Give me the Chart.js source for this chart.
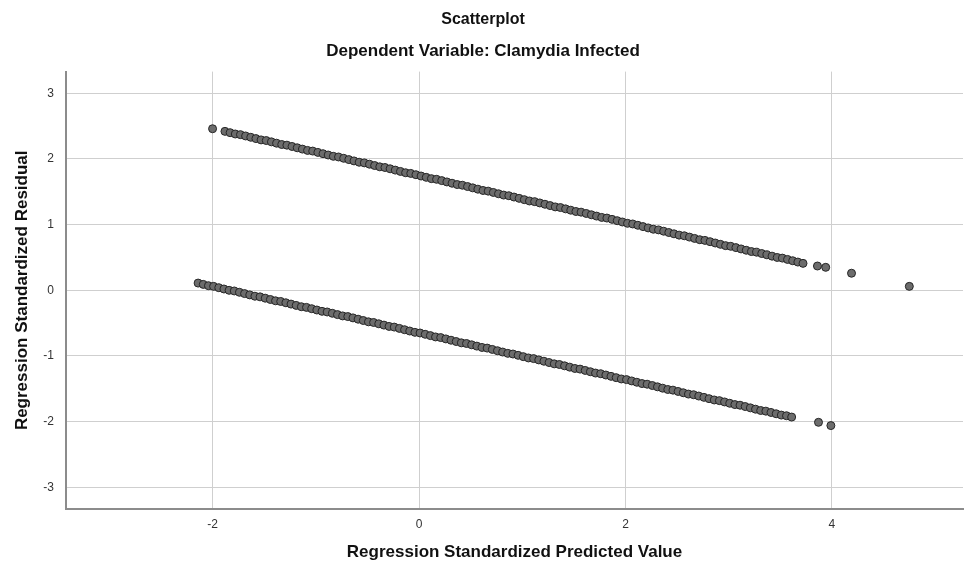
<!DOCTYPE html>
<html>
<head>
<meta charset="utf-8">
<title>Scatterplot</title>
<script src="https://cdn.jsdelivr.net/npm/chart.js@4.4.1/dist/chart.umd.min.js"></script>
<style>
  html, body { margin: 0; padding: 0; background: #fff; }
  #wrap { width: 968px; height: 567px; position: relative; }
</style>
</head>
<body>
<div id="wrap"><canvas id="scatter"></canvas></div>
<script>
// values (predicted value, residual)
const upperX = [-2.00,-1.88,-1.83,-1.78,-1.73,-1.68,-1.63,-1.58,-1.53,-1.48,-1.43,-1.38,-1.33,-1.28,-1.23,-1.18,-1.13,-1.08,-1.03,-0.98,-0.93,-0.88,-0.83,-0.78,-0.73,-0.68,-0.63,-0.58,-0.53,-0.48,-0.43,-0.38,-0.33,-0.28,-0.23,-0.18,-0.13,-0.08,-0.03,
  0.02,0.07,0.12,0.17,0.22,0.27,0.32,0.37,0.42,0.47,0.52,0.57,0.62,0.67,0.72,0.77,0.82,0.87,0.92,0.97,1.02,1.07,1.12,1.17,1.22,1.27,1.32,1.37,1.42,1.47,1.52,1.57,1.62,1.67,1.72,1.77,1.82,1.87,1.92,1.97,2.02,2.07,2.12,2.17,2.22,2.27,2.32,2.37,2.42,2.47,2.52,2.57,2.62,2.67,2.72,2.77,2.82,2.87,2.92,2.97,3.02,3.07,3.12,3.17,3.22,3.27,3.32,3.37,3.42,3.47,3.52,3.57,3.62,3.67,3.72,
  3.86,3.94,4.19,4.75];
const upperY = [2.46,2.42,2.40,2.38,2.37,2.35,2.33,2.31,2.29,2.28,2.26,2.24,2.22,2.21,2.19,2.17,2.15,2.13,2.12,2.10,2.08,2.06,2.04,2.03,2.01,1.99,1.97,1.95,1.94,1.92,1.90,1.88,1.87,1.85,1.83,1.81,1.79,1.78,1.76,
  1.74,1.72,1.70,1.69,1.67,1.65,1.63,1.61,1.60,1.58,1.56,1.54,1.52,1.51,1.49,1.47,1.45,1.44,1.42,1.40,1.38,1.36,1.35,1.33,1.31,1.29,1.27,1.26,1.24,1.22,1.20,1.19,1.17,1.15,1.13,1.11,1.10,1.08,1.06,1.04,1.02,1.01,0.99,0.97,0.95,0.93,0.92,0.90,0.88,0.86,0.84,0.83,0.81,0.79,0.77,0.76,0.74,0.72,0.70,0.68,0.67,0.65,0.63,0.61,0.59,0.58,0.56,0.54,0.52,0.50,0.49,0.47,0.45,0.43,0.41,
  0.37,0.35,0.26,0.06];

const lowerX = [-2.14,-2.09,-2.04,-1.99,-1.94,-1.89,-1.84,-1.79,-1.74,-1.69,-1.64,-1.59,-1.54,-1.49,-1.44,-1.39,-1.34,-1.29,-1.24,-1.19,-1.14,-1.09,-1.04,-0.99,-0.94,-0.89,-0.84,-0.79,-0.74,-0.69,-0.64,-0.59,-0.54,-0.49,-0.44,-0.39,-0.34,-0.29,-0.24,-0.19,-0.14,-0.09,-0.04,
  0.01,0.06,0.11,0.16,0.21,0.26,0.31,0.36,0.41,0.46,0.51,0.56,0.61,0.66,0.71,0.76,0.81,0.86,0.91,0.96,1.01,1.06,1.11,1.16,1.21,1.26,1.31,1.36,1.41,1.46,1.51,1.56,1.61,1.66,1.71,1.76,1.81,1.86,1.91,1.96,2.01,2.06,2.11,2.16,2.21,2.26,2.31,2.36,2.41,2.46,2.51,2.56,2.61,2.66,2.71,2.76,2.81,2.86,2.91,2.96,3.01,3.06,3.11,3.16,3.21,3.26,3.31,3.36,3.41,3.46,3.51,3.56,3.61,
  3.87,3.99];
const lowerY = [0.11,0.09,0.07,0.06,0.04,0.02,0.00,-0.01,-0.03,-0.05,-0.07,-0.09,-0.10,-0.12,-0.14,-0.16,-0.17,-0.19,-0.21,-0.23,-0.25,-0.26,-0.28,-0.30,-0.32,-0.33,-0.35,-0.37,-0.39,-0.40,-0.42,-0.44,-0.46,-0.48,-0.49,-0.51,-0.53,-0.55,-0.56,-0.58,-0.60,-0.62,-0.64,
  -0.65,-0.67,-0.69,-0.71,-0.72,-0.74,-0.76,-0.78,-0.80,-0.81,-0.83,-0.85,-0.87,-0.88,-0.90,-0.92,-0.94,-0.96,-0.97,-0.99,-1.01,-1.03,-1.04,-1.06,-1.08,-1.10,-1.12,-1.13,-1.15,-1.17,-1.19,-1.20,-1.22,-1.24,-1.26,-1.27,-1.29,-1.31,-1.33,-1.35,-1.36,-1.38,-1.40,-1.42,-1.43,-1.45,-1.47,-1.49,-1.51,-1.52,-1.54,-1.56,-1.58,-1.59,-1.61,-1.63,-1.65,-1.67,-1.68,-1.70,-1.72,-1.74,-1.75,-1.77,-1.79,-1.81,-1.83,-1.84,-1.86,-1.88,-1.90,-1.91,-1.93,
  -2.01,-2.06];

const xTicks = [-2, 0, 2, 4];
const yTicks = [-3, -2, -1, 0, 1, 2, 3];

function toPoints(xs, ys) {
  return xs.map((x, i) => ({ x: x, y: ys[i] }));
}

const FONT = "'Liberation Sans', Arial, sans-serif";

const pointStyle = {
  pointRadius: 4,
  pointHoverRadius: 4,
  pointBackgroundColor: "#6c6c6c",
  pointBorderColor: "#262626",
  pointBorderWidth: 1
};

new Chart(document.getElementById("scatter"), {
  type: "scatter",
  data: {
    datasets: [
      Object.assign({ label: "upper", data: toPoints(upperX, upperY) }, pointStyle),
      Object.assign({ label: "lower", data: toPoints(lowerX, lowerY) }, pointStyle)
    ]
  },
  options: {
    responsive: true,
    maintainAspectRatio: false,
    animation: false,
    layout: { padding: { left: 0, right: 2, top: 0, bottom: 0 } },
    plugins: {
      legend: { display: false },
      tooltip: { enabled: false },
      title: {
        display: true,
        text: "Scatterplot",
        color: "#111",
        font: { family: FONT, size: 16, weight: "bold" },
        padding: { top: 10, bottom: 12 }
      },
      subtitle: {
        display: true,
        text: "Dependent Variable: Clamydia Infected",
        color: "#111",
        font: { family: FONT, size: 17, weight: "bold" },
        padding: { top: 0, bottom: 10 }
      }
    },
    scales: {
      x: {
        type: "linear",
        min: -3.42,
        max: 5.27,
        afterBuildTicks: s => { s.ticks = xTicks.map(v => ({ value: v })); },
        afterFit: s => { s.height = 58; },
        grid: { color: "#cfcfcf", lineWidth: 1, drawTicks: false },
        border: { color: "#8c8c8c", width: 2 },
        ticks: { color: "#333", padding: 8, font: { family: FONT, size: 12 } },
        title: {
          display: true,
          text: "Regression Standardized Predicted Value",
          color: "#111",
          font: { family: FONT, size: 17, weight: "bold" },
          padding: { top: 0, bottom: 4 }
        }
      },
      y: {
        type: "linear",
        min: -3.33,
        max: 3.33,
        afterBuildTicks: s => { s.ticks = yTicks.map(v => ({ value: v })); },
        afterFit: s => { s.width = 66; },
        grid: { color: "#cfcfcf", lineWidth: 1, drawTicks: false },
        border: { color: "#8c8c8c", width: 2 },
        ticks: { color: "#333", padding: 12, font: { family: FONT, size: 12 } },
        title: {
          display: true,
          text: "Regression Standardized Residual",
          color: "#111",
          font: { family: FONT, size: 17, weight: "bold" },
          padding: { top: 12, bottom: 0 }
        }
      }
    }
  }
});
</script>
</body>
</html>
